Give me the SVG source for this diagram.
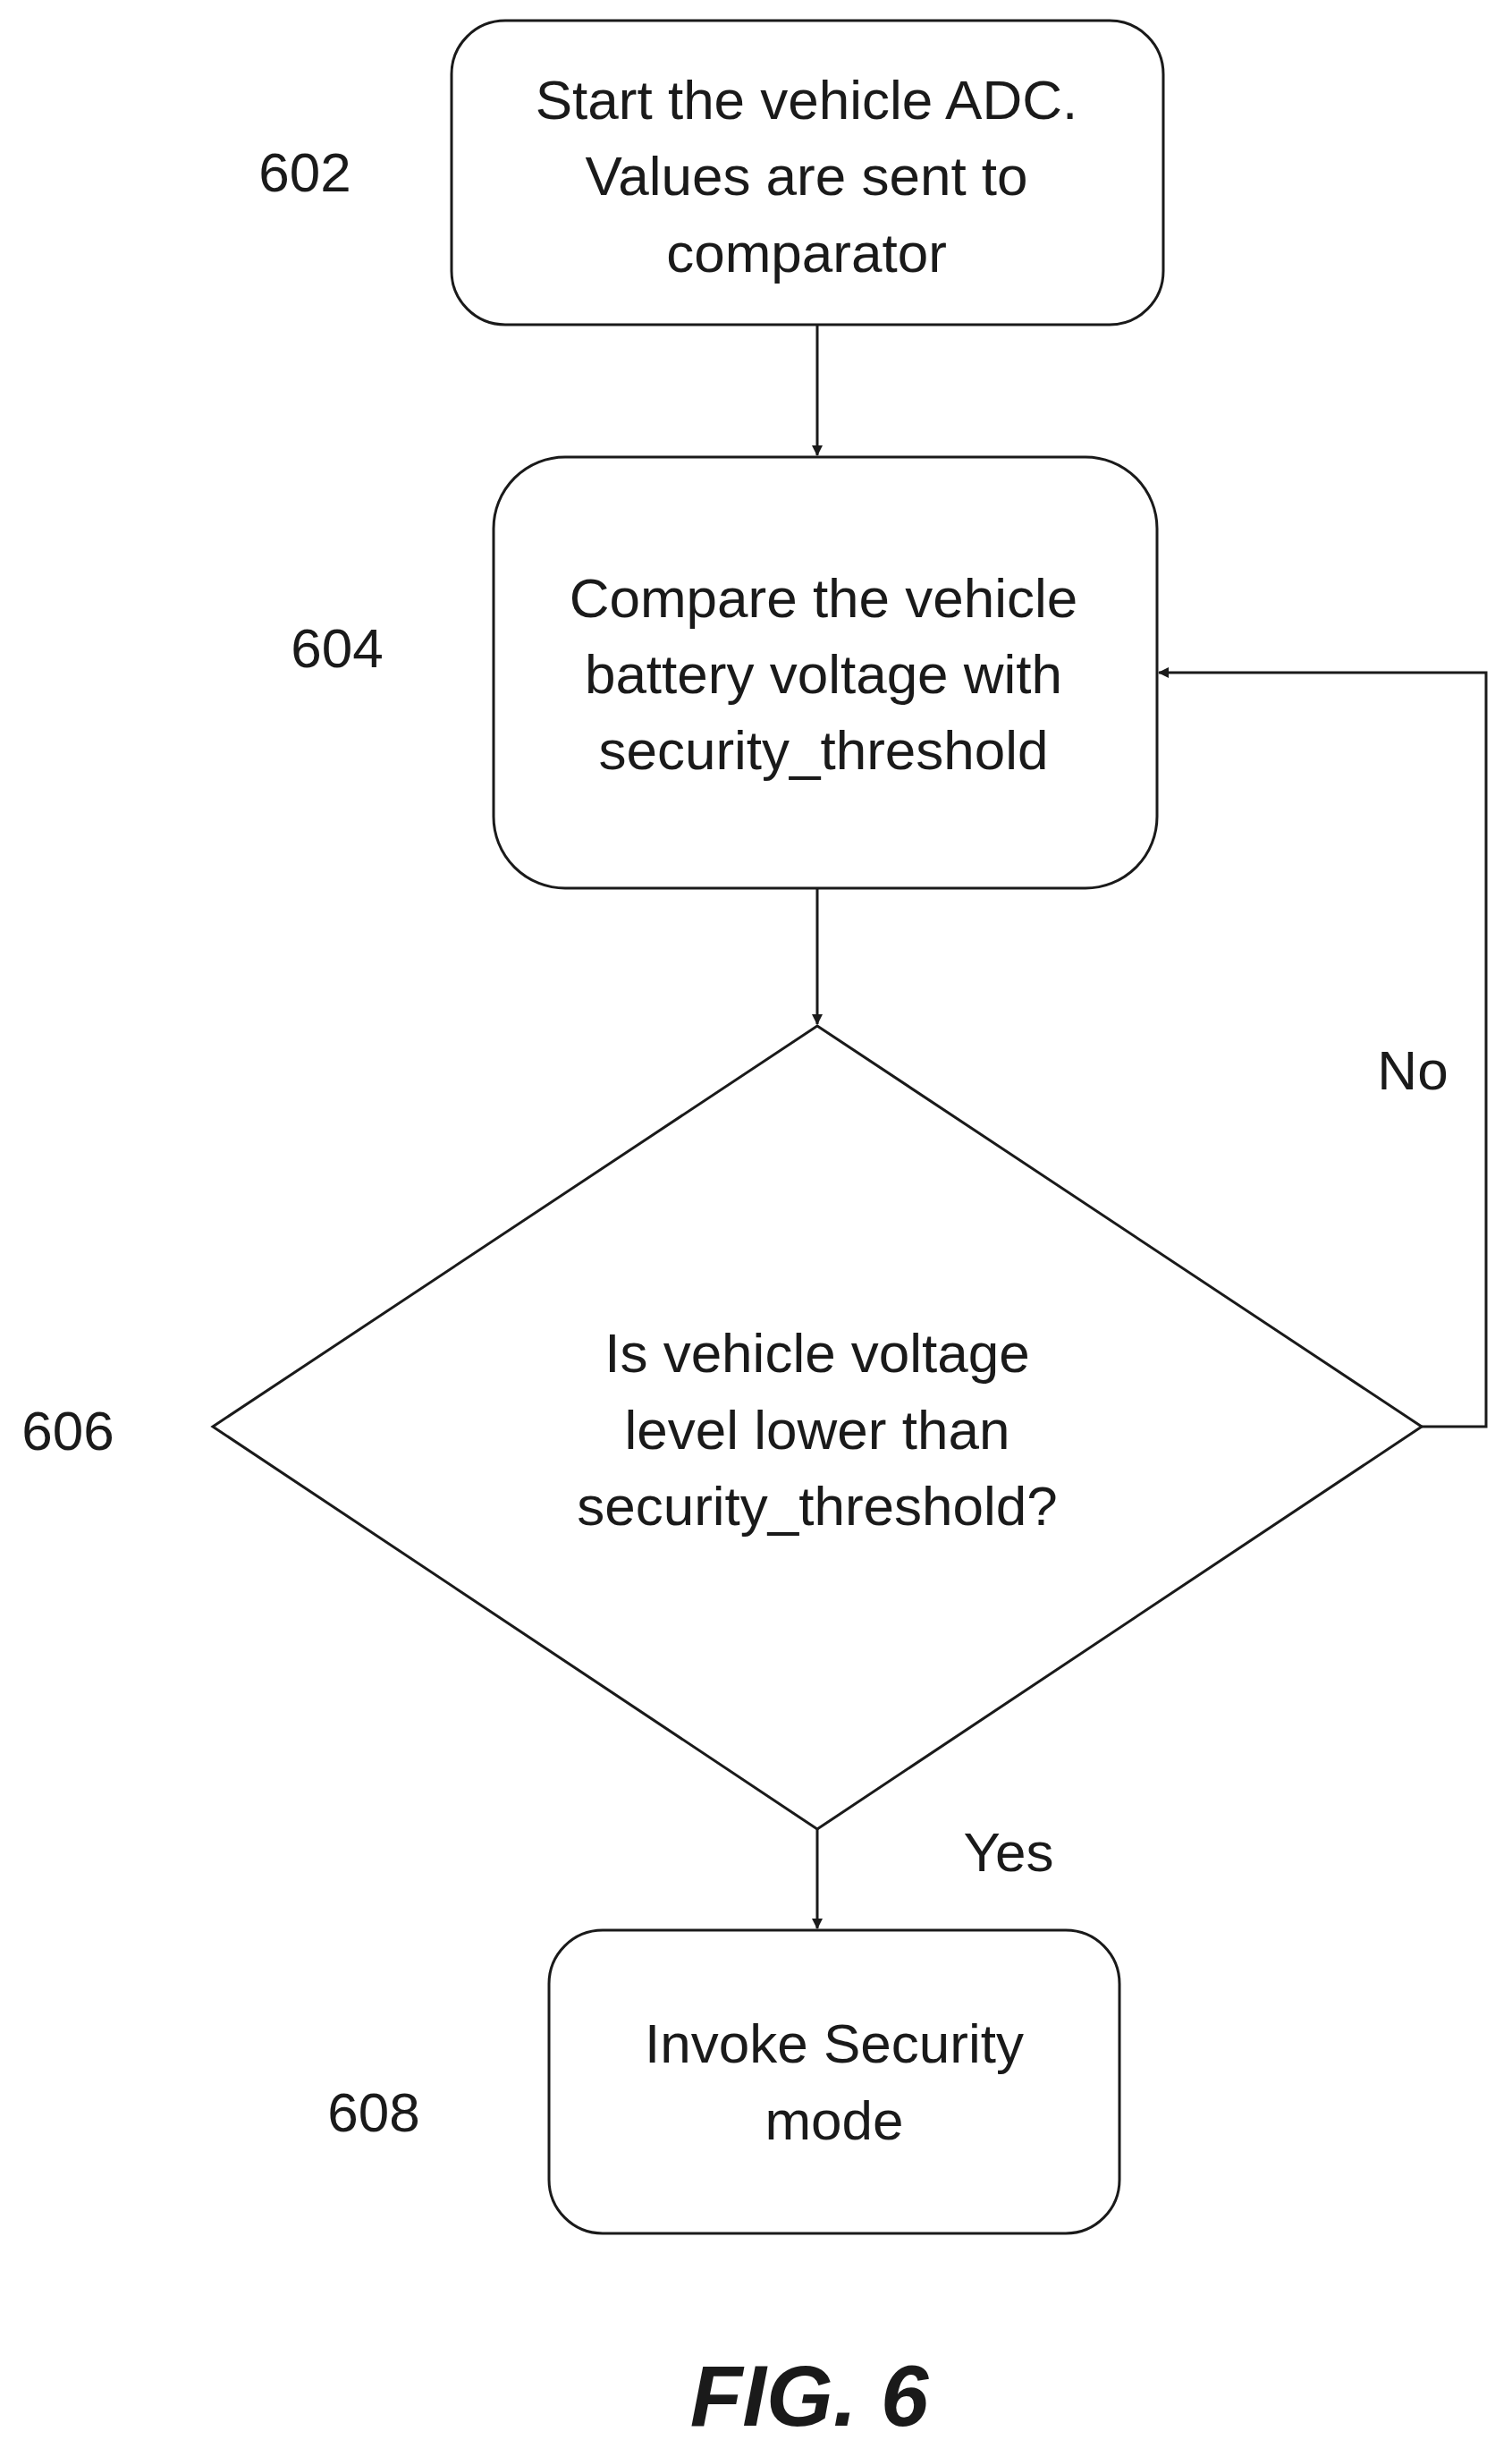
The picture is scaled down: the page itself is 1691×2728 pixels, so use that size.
<svg xmlns="http://www.w3.org/2000/svg" width="1691" height="2728" viewBox="0 0 1691 2728">
<style>
.b{fill:none;stroke:#1a1a1a;stroke-width:3}
.t{font-family:"Liberation Sans",Arial,sans-serif;font-size:62px;fill:#1a1a1a;text-anchor:middle}
.c{fill:none;stroke:#1a1a1a;stroke-width:3}
</style>
<defs><marker id="a" markerWidth="12" markerHeight="12" refX="11" refY="6" orient="auto" markerUnits="userSpaceOnUse"><path d="M0,0 L12,6 L0,12 z" fill="#1a1a1a"/></marker></defs>
<rect width="1691" height="2728" fill="#fff"/>
<g id="n602"><rect class="b" x="505" y="23" width="796" height="340" rx="60"/>
<text class="t" x="902" y="133">Start the vehicle ADC.</text><text class="t" x="902" y="218">Values are sent to</text><text class="t" x="902" y="304">comparator</text>
<text class="t" x="341" y="214">602</text></g>
<g id="n604"><rect class="b" x="552" y="511" width="742" height="482" rx="80"/>
<text class="t" x="921" y="690">Compare the vehicle</text><text class="t" x="921" y="775">battery voltage with</text><text class="t" x="921" y="860">security_threshold</text>
<text class="t" x="377" y="746">604</text></g>
<g id="n606"><polygon class="b" points="914,1147 1590,1595 914,2045 238,1595"/>
<text class="t" x="914" y="1534">Is vehicle voltage</text><text class="t" x="914" y="1620">level lower than</text><text class="t" x="914" y="1705">security_threshold?</text>
<text class="t" x="76" y="1621">606</text></g>
<g id="n608"><rect class="b" x="614" y="2158" width="638" height="339" rx="60"/>
<text class="t" x="933" y="2306">Invoke Security</text><text class="t" x="933" y="2392">mode</text>
<text class="t" x="418" y="2383">608</text></g>
<g id="connectors">
<line class="c" x1="914" y1="363" x2="914" y2="509" marker-end="url(#a)"/>
<line class="c" x1="914" y1="993" x2="914" y2="1145" marker-end="url(#a)"/>
<line class="c" x1="914" y1="2045" x2="914" y2="2156" marker-end="url(#a)"/>
<polyline class="c" points="1590,1595 1662,1595 1662,752 1296,752" marker-end="url(#a)"/>
<text class="t" x="1580" y="1218">No</text>
<text class="t" x="1128" y="2092">Yes</text>
</g>
<text x="905" y="2712" style="font-family:'Liberation Sans',Arial,sans-serif;font-size:96px;font-weight:bold;font-style:italic;text-anchor:middle;fill:#1a1a1a">FIG. 6</text>
</svg>
